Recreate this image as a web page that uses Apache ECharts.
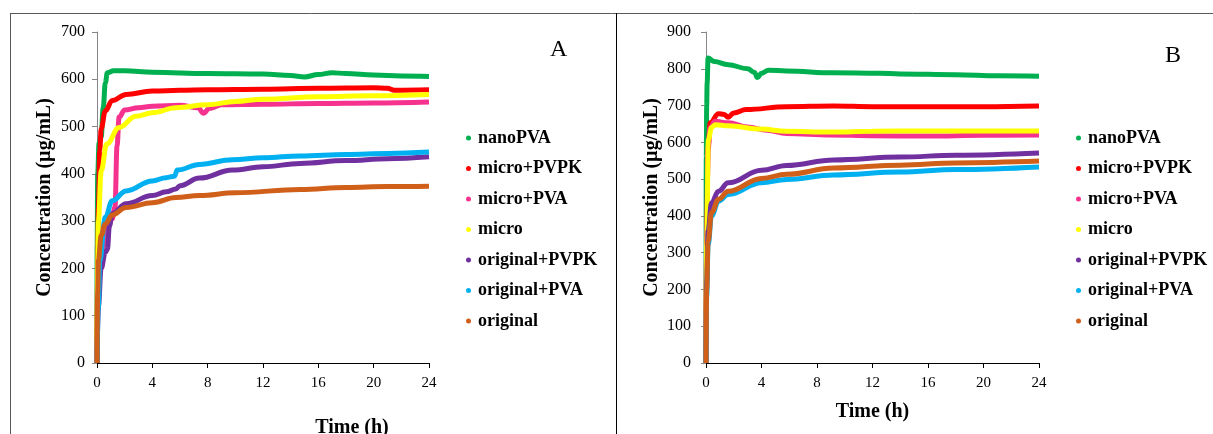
<!DOCTYPE html>
<html><head><meta charset="utf-8">
<script src="https://cdn.jsdelivr.net/npm/echarts@6/dist/echarts.min.js"></script>
<style>html,body{margin:0;padding:0;background:#fff}#c{width:1213px;height:434px}</style>
</head><body><div id="c"></div>
<script>
// ---- Data (time in h, concentration in µg/mL) ----
const seriesNames = ['nanoPVA','micro+PVPK','micro+PVA','micro','original+PVPK','original+PVA','original'];
const seriesColors = ['#00b050','#ff0000','#f5338f','#ffff00','#7030a0','#00b0f0','#d05f1a'];
const xTicks = [0,4,8,12,16,20,24];

// Panel A
const nanoPVA_A = [[0,0],[0.01,250],[0.05,400],[0.15,465],[0.3,478],[0.45,540],[0.6,592],[0.75,614],[1.2,618],[2,618],[4,615],[8,612],[12,611],[14,608],[15,605],[16,610],[17,614],[18,612],[20,609],[22,607],[24,606]];
const microPVPK_A = [[0,0],[0.05,200],[0.1,330],[0.2,450],[0.3,495],[0.6,533],[1.1,555],[2.1,568],[4,575],[6,577],[8,578],[12,579],[16,581],[20,582],[21,581],[21.5,577],[24,578]];
const microPVA_A = [[0,0],[0.1,150],[0.3,230],[0.7,280],[1.1,305],[1.3,330],[1.45,460],[1.6,520],[2,535],[3,540],[4,543],[6,545],[7.3,540],[7.7,528],[8.1,538],[9,546],[12,547],[16,549],[20,550],[24,552]];
const micro_A = [[0,0],[0.05,200],[0.1,300],[0.3,406],[0.7,463],[1.6,498],[2.8,522],[4,529],[5.7,540],[8,546],[10,553],[12,558],[16,563],[20,565],[24,568]];
const originalPVPK_A = [[0,0],[0.1,120],[0.3,200],[0.6,234],[0.75,240],[0.9,290],[1.1,316],[2.1,337],[4,354],[5,362],[5.7,368],[6,375],[7.4,391],[9.8,408],[12,415],[14.7,422],[18,428],[21,432],[24,436]];
const originalPVA_A = [[0,0],[0.1,120],[0.2,217],[0.6,308],[1.1,343],[2.1,364],[4,385],[5,392],[5.6,395],[5.8,408],[7.4,420],[9.8,430],[12,434],[14.7,438],[18,441],[21,443],[24,446]];
const original_A = [[0,0],[0.05,150],[0.1,217],[0.3,270],[0.6,294],[1.1,313],[2.1,329],[4,339],[5.7,350],[7.4,354],[10,360],[14.7,367],[18,371],[21,373],[24,374]];
const yTicksA = [0,100,200,300,400,500,600,700];

// Panel B
const nanoPVA_B = [[0,0],[0.02,560],[0.05,700],[0.08,760],[0.15,829],[0.6,820],[1.6,811],[3,800],[3.5,790],[3.7,776],[4,788],[4.5,796],[5.8,794],[9.2,789],[12.5,788],[14,786],[18,784],[21,781],[24,780]];
const microPVPK_B = [[0,0],[0.05,350],[0.15,580],[0.3,653],[0.9,678],[1.3,676],[1.6,668],[2,680],[2.9,689],[5.8,697],[9.2,699],[12,697],[16,697],[20,697],[24,699]];
const microPVA_B = [[0,0],[0.05,330],[0.15,590],[0.3,640],[0.65,657],[1.6,653],[3,642],[4.4,633],[5.8,624],[9,620],[12,618],[16,617],[20,619],[24,620]];
const micro_B = [[0,0],[0.05,320],[0.17,607],[0.4,640],[0.65,648],[1.6,645],[4,636],[5.8,630],[9,628],[12,630],[16,631],[20,631],[24,631]];
const originalPVPK_B = [[0,0],[0.05,220],[0.15,360],[0.4,436],[0.9,467],[1.6,490],[4,524],[5.8,537],[9.2,552],[14,560],[18,565],[24,571]];
const originalPVA_B = [[0,0],[0.05,180],[0.15,320],[0.4,400],[0.9,440],[1.6,458],[4,490],[5.8,499],[9.2,511],[14,519],[18,526],[24,533]];
const original_B = [[0,0],[0.05,200],[0.15,330],[0.4,409],[0.9,445],[1.6,467],[4,502],[5.8,513],[9.2,530],[14,538],[18,544],[24,549]];
const yTicksB = [0,100,200,300,400,500,600,700,800,900];

const dataA = [nanoPVA_A, microPVPK_A, microPVA_A, micro_A, originalPVPK_A, originalPVA_A, original_A];
const dataB = [nanoPVA_B, microPVPK_B, microPVA_B, micro_B, originalPVPK_B, originalPVA_B, original_B];

const SERIF = '"Liberation Serif","Times New Roman",serif';

function mkX(gi, name, gap){
  return {gridIndex:gi, type:'value', min:xTicks[0], max:xTicks[xTicks.length-1], interval:4,
    axisLine:{show:true, onZero:false, lineStyle:{color:'#000', width:1}},
    axisTick:{show:true, length:5, lineStyle:{color:'#000'}},
    splitLine:{show:false},
    axisLabel:{fontFamily:SERIF, fontSize:15, color:'#000', margin:13},
    name:name, nameLocation:'middle', nameGap:gap,
    nameTextStyle:{fontFamily:SERIF, fontSize:20, fontWeight:'bold', color:'#000'}};
}
function mkY(gi, ticks, gap, margin){
  return {gridIndex:gi, type:'value', min:ticks[0], max:ticks[ticks.length-1], interval:100,
    axisLine:{show:true, onZero:false, lineStyle:{color:'#868686', width:1}},
    axisTick:{show:true, length:5, lineStyle:{color:'#868686'}},
    splitLine:{show:false},
    axisLabel:{fontFamily:SERIF, fontSize:16, color:'#000', margin:margin},
    name:'Concentration (µg/mL)', nameLocation:'middle', nameGap:gap, nameRotate:90,
    nameTextStyle:{fontFamily:SERIF, fontSize:20, fontWeight:'bold', color:'#000'}};
}
function mkSeries(data, gi){
  return seriesNames.map((n,i)=>({
    name:n, type:'line', xAxisIndex:gi, yAxisIndex:gi, data:data[i],
    smooth:0.4, smoothMonotone:'x', showSymbol:false, symbol:'circle', symbolSize:4,
    lineStyle:{color:seriesColors[i], width:5}, itemStyle:{color:seriesColors[i]},
    z:2+i
  }));
}
function mkLegend(left){
  return {data:seriesNames, orient:'vertical', left:left, top:124, icon:'circle',
    itemWidth:5, itemHeight:5, itemGap:12.5,
    textStyle:{fontFamily:SERIF, fontSize:18, fontWeight:'bold', color:'#000', lineHeight:18, padding:[0,0,0,2]},
    selectedMode:false};
}

const chart = echarts.init(document.getElementById('c'), null, {renderer:'canvas'});
chart.setOption({
  animation:false,
  backgroundColor:'#fff',
  grid:[{left:97, top:32, width:332, height:331, outerBoundsMode:'none'},
        {left:706, top:32, width:333, height:331, outerBoundsMode:'none'}],
  xAxis:[mkX(0,'',40), mkX(1,'Time (h)',39)],
  yAxis:[mkY(0,yTicksA,42,12), mkY(1,yTicksB,44,15)],
  legend:[mkLegend(461), mkLegend(1071)],
  series:[...mkSeries(dataA,0), ...mkSeries(dataB,1)],
  graphic:[
    {type:'line', shape:{x1:10,y1:13.5,x2:1213,y2:13.5}, style:{stroke:'#595959', lineWidth:1}, silent:true},
    {type:'line', shape:{x1:10.5,y1:13,x2:10.5,y2:434}, style:{stroke:'#595959', lineWidth:1}, silent:true},
    {type:'line', shape:{x1:616.5,y1:13,x2:616.5,y2:434}, style:{stroke:'#000', lineWidth:1}, silent:true},
    {type:'text', x:352, y:418, style:{text:'Time (h)', font:'bold 20px '+SERIF, fill:'#000', align:'center', verticalAlign:'top'}},
    {type:'text', left:550, top:38, style:{text:'A', font:'24px '+SERIF, fill:'#000'}},
    {type:'text', left:1165, top:44, style:{text:'B', font:'24px '+SERIF, fill:'#000'}}
  ]
});
</script></body></html>
